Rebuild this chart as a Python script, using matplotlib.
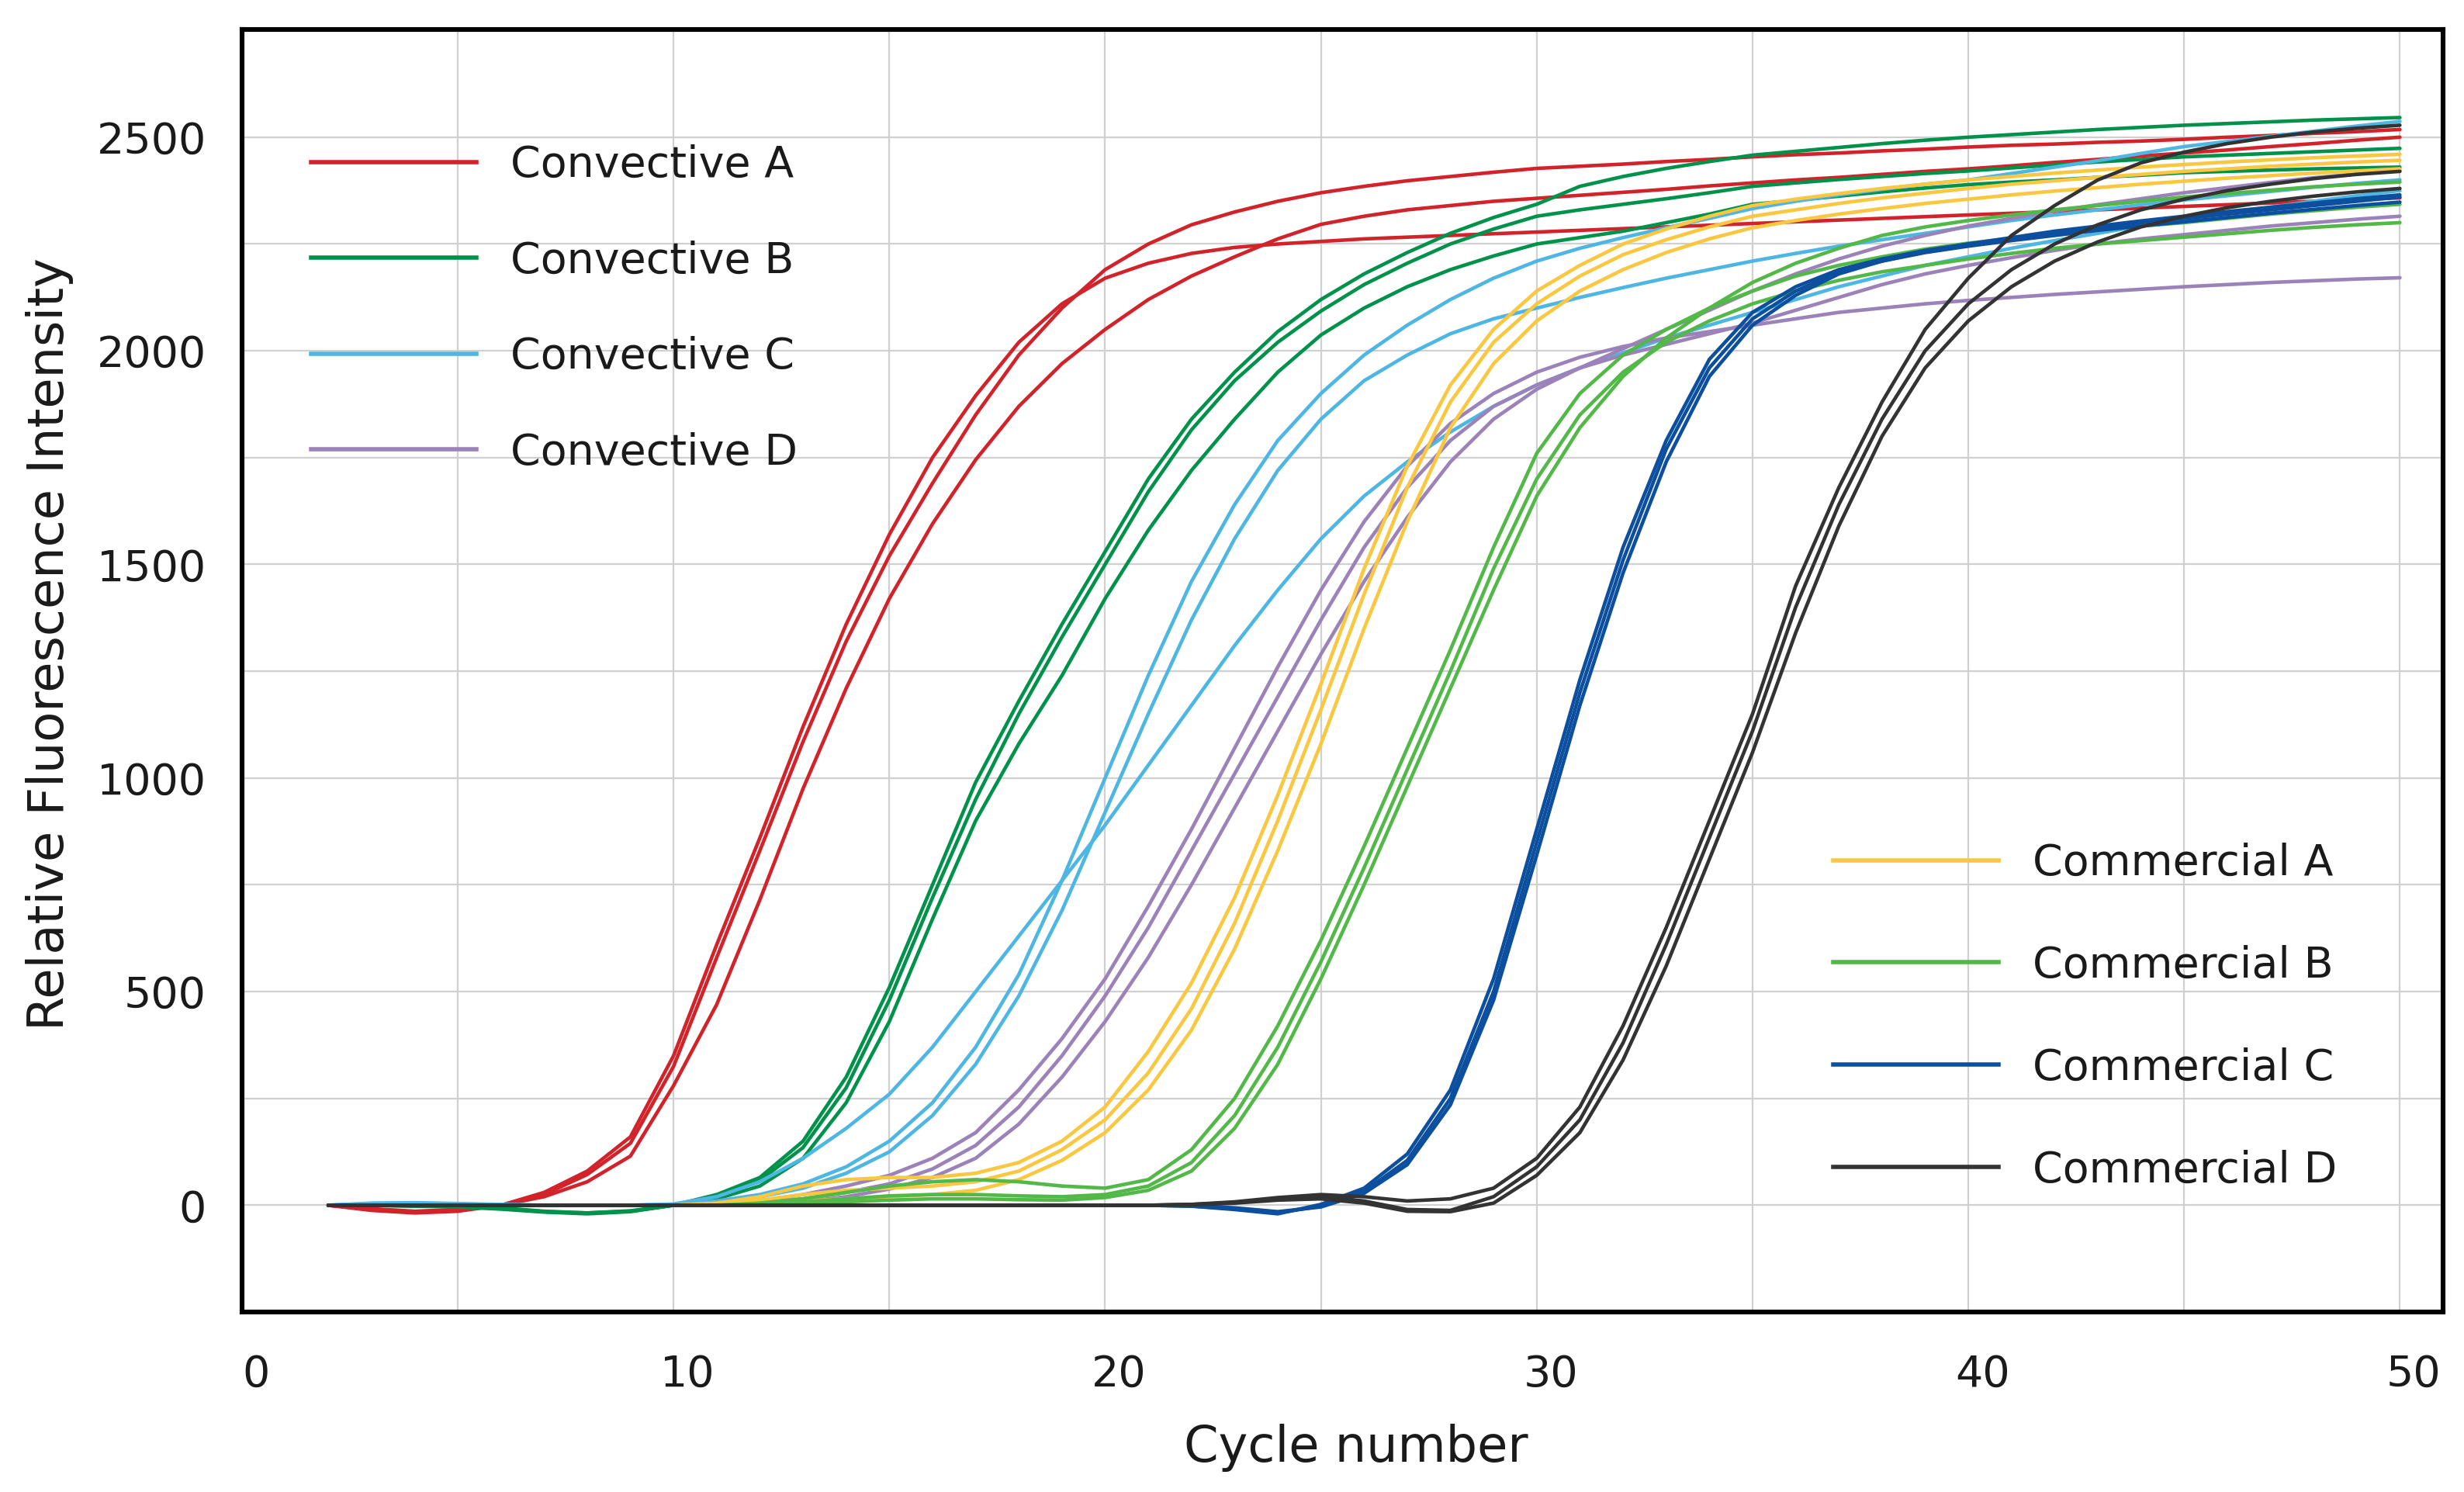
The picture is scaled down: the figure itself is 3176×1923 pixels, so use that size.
import matplotlib
matplotlib.use("Agg")
import matplotlib.pyplot as plt
from matplotlib.lines import Line2D
from matplotlib.transforms import ScaledTranslation

plt.rcParams['font.family'] = ['DejaVu Sans']

cycles = list(range(2, 51))

# ---- Convective A (red) ----
conv_a_1 = [0, -12, -18, -14, 0, 30, 80, 160, 350, 610, 860, 1120, 1360, 1570, 1750, 1895, 2020, 2110, 2170, 2205,
            2228, 2242, 2250, 2256, 2262, 2266, 2270, 2274, 2278, 2282, 2286, 2290, 2294, 2298, 2302, 2306, 2310, 2314,
            2318, 2322, 2326, 2330, 2334, 2338, 2342, 2346, 2350, 2354, 2358]
conv_a_2 = [0, -10, -16, -12, 0, 25, 72, 145, 325, 580, 830, 1085, 1320, 1520, 1690, 1850, 1990, 2100, 2190, 2250,
            2295, 2325, 2350, 2370, 2385, 2398, 2408, 2418, 2427, 2432, 2437, 2443, 2448, 2454, 2459, 2463, 2468, 2472,
            2477, 2481, 2484, 2488, 2491, 2495, 2500, 2504, 2509, 2513, 2518]
conv_a_3 = [0, -8, -14, -10, 0, 20, 55, 115, 280, 470, 715, 975, 1210, 1420, 1595, 1745, 1870, 1970, 2050, 2120,
            2175, 2220, 2262, 2296, 2315, 2330, 2340, 2350, 2357, 2364, 2371, 2378, 2386, 2393, 2400, 2406, 2413, 2420,
            2426, 2433, 2441, 2448, 2456, 2463, 2470, 2478, 2485, 2493, 2500]

# ---- Convective B (dark green) ----
conv_b_1 = [0, 0, -2, -2, -6, -14, -18, -14, 0, 25, 65, 150, 300, 510, 750, 990, 1180, 1360, 1530, 1700, 1840, 1950,
            2045, 2120, 2180, 2230, 2275, 2312, 2343, 2385, 2408, 2427, 2443, 2458, 2467, 2476, 2485, 2493, 2500, 2506,
            2512, 2518, 2523, 2528, 2532, 2536, 2540, 2543, 2546]
conv_b_2 = [0, 0, -1, -3, -8, -15, -18, -13, 0, 20, 58, 135, 275, 480, 720, 950, 1150, 1330, 1500, 1670, 1815, 1930,
            2020, 2093, 2155, 2205, 2250, 2285, 2315, 2330, 2343, 2356, 2370, 2385, 2393, 2401, 2408, 2415, 2421, 2428,
            2435, 2442, 2448, 2454, 2458, 2462, 2466, 2470, 2474]
conv_b_3 = [0, 0, -2, -4, -9, -16, -20, -15, 0, 15, 45, 110, 240, 430, 670, 900, 1080, 1240, 1420, 1580, 1720, 1840,
            1950, 2037, 2100, 2150, 2190, 2222, 2250, 2265, 2280, 2300, 2320, 2343, 2352, 2362, 2372, 2381, 2389, 2395,
            2400, 2406, 2411, 2417, 2420, 2423, 2426, 2428, 2430]

# ---- Convective C (light blue) ----
conv_c_1 = [0, 5, 6, 4, 2, 0, 0, 0, 2, 10, 25, 50, 90, 150, 240, 370, 540, 760, 1000, 1240, 1460, 1640, 1790, 1900,
            1990, 2060, 2120, 2170, 2210, 2240, 2265, 2288, 2310, 2333, 2350, 2365, 2378, 2390, 2400, 2415, 2430, 2445,
            2462, 2478, 2490, 2502, 2514, 2526, 2537]
conv_c_2 = [0, 4, 5, 3, 1, 0, 0, 0, 3, 20, 55, 110, 180, 260, 370, 500, 630, 760, 890, 1030, 1170, 1310, 1440, 1560,
            1660, 1740, 1810, 1870, 1920, 1960, 1995, 2030, 2060, 2090, 2120, 2150, 2175, 2200, 2220, 2240, 2258, 2275,
            2292, 2308, 2322, 2336, 2350, 2363, 2375]
conv_c_3 = [0, 3, 4, 3, 1, 0, 0, 0, 1, 8, 20, 40, 75, 125, 210, 330, 490, 690, 920, 1150, 1370, 1560, 1720, 1840,
            1930, 1990, 2040, 2075, 2100, 2125, 2148, 2170, 2190, 2210, 2228, 2245, 2260, 2275, 2290, 2305, 2318, 2330,
            2342, 2353, 2363, 2373, 2383, 2392, 2400]

# ---- Convective D (purple) ----
conv_d_1 = [0, 0, 0, 0, 0, 0, 0, 0, 0, 2, 10, 25, 45, 70, 110, 170, 270, 390, 530, 700, 880, 1070, 1260, 1440, 1600,
            1730, 1830, 1900, 1950, 1985, 2010, 2030, 2045, 2060, 2075, 2090, 2100, 2110, 2118, 2125, 2132, 2138, 2144,
            2150, 2155, 2160, 2164, 2168, 2171]
conv_d_2 = [0, 0, 0, 0, 0, 0, 0, 0, 0, 1, 5, 15, 30, 50, 85, 140, 230, 350, 490, 650, 830, 1010, 1190, 1370, 1540,
            1680, 1790, 1870, 1920, 1960, 1990, 2015, 2040, 2065, 2095, 2125, 2155, 2180, 2200, 2218, 2235, 2250, 2262,
            2272, 2282, 2292, 2300, 2308, 2315]
conv_d_3 = [0, 0, 0, 0, 0, 0, 0, 0, 0, 0, 0, 8, 20, 38, 65, 110, 190, 300, 430, 580, 750, 930, 1110, 1290, 1460,
            1610, 1740, 1840, 1910, 1960, 2005, 2050, 2095, 2140, 2180, 2215, 2245, 2270, 2292, 2310, 2327, 2342, 2356,
            2370, 2382, 2394, 2405, 2414, 2422]

# ---- Commercial A (yellow) ----
comm_a_1 = [0, 0, 0, 0, 0, 0, 0, 0, 0, 5, 20, 45, 60, 65, 65, 75, 100, 150, 230, 360, 520, 720, 960, 1220, 1490,
            1730, 1920, 2050, 2140, 2200, 2250, 2285, 2315, 2340, 2355, 2368, 2380, 2390, 2400, 2408, 2416, 2423, 2430,
            2436, 2442, 2447, 2452, 2456, 2460]
comm_a_2 = [0, 0, 0, 0, 0, 0, 0, 0, 0, 3, 12, 25, 35, 40, 45, 55, 80, 130, 200, 310, 460, 660, 900, 1160, 1430,
            1680, 1880, 2020, 2110, 2175, 2225, 2260, 2290, 2315, 2330, 2345, 2358, 2369, 2380, 2390, 2398, 2406, 2413,
            2420, 2426, 2432, 2437, 2442, 2446]
comm_a_3 = [0, 0, 0, 0, 0, 0, 0, 0, 0, 0, 5, 10, 15, 20, 25, 35, 60, 105, 170, 270, 410, 600, 830, 1080, 1350,
            1600, 1820, 1970, 2070, 2140, 2190, 2230, 2262, 2288, 2305, 2320, 2333, 2345, 2355, 2365, 2374, 2382, 2390,
            2397, 2404, 2410, 2416, 2421, 2426]

# ---- Commercial B (light green) ----
comm_b_1 = [0, 0, 0, 0, 0, 0, 0, 0, 0, 0, 5, 15, 30, 45, 55, 60, 55, 45, 40, 60, 130, 250, 420, 620, 840, 1070,
            1300, 1540, 1760, 1900, 1990, 2050, 2100, 2140, 2175, 2200, 2220, 2238, 2252, 2263, 2273, 2283, 2292, 2300,
            2310, 2320, 2328, 2336, 2343]
comm_b_2 = [0, 0, 0, 0, 0, 0, 0, 0, 0, 0, 2, 8, 15, 22, 25, 25, 22, 20, 25, 45, 100, 210, 370, 570, 790, 1020,
            1250, 1490, 1700, 1850, 1950, 2020, 2070, 2110, 2140, 2165, 2185, 2200, 2215, 2228, 2240, 2250, 2258, 2266,
            2274, 2282, 2289, 2295, 2300]
comm_b_3 = [0, 0, 0, 0, 0, 0, 0, 0, 0, 0, 0, 3, 8, 12, 15, 15, 13, 12, 18, 35, 80, 180, 330, 530, 750, 980,
            1210, 1440, 1660, 1820, 1940, 2030, 2100, 2160, 2205, 2240, 2270, 2290, 2305, 2318, 2330, 2340, 2350, 2360,
            2368, 2376, 2384, 2390, 2395]

# ---- Commercial C (dark blue) ----
comm_c_1 = [0, 0, 0, 0, 0, 0, 0, 0, 0, 0, 0, 0, 0, 0, 0, 0, 0, 0, 0, 0, -2, -10, -20, 2, 40, 120, 270, 530, 880,
            1230, 1540, 1790, 1980, 2090, 2150, 2190, 2215, 2235, 2250, 2262, 2275, 2288, 2300, 2310, 2320, 2330,
            2340, 2350, 2360]
comm_c_2 = [0, 0, 0, 0, 0, 0, 0, 0, 0, 0, 0, 0, 0, 0, 0, 0, 0, 0, 0, 0, -2, -8, -18, -2, 32, 105, 250, 500, 850,
            1200, 1510, 1770, 1960, 2075, 2140, 2185, 2210, 2230, 2245, 2258, 2270, 2282, 2292, 2302, 2312, 2322,
            2331, 2340, 2348]
comm_c_3 = [0, 0, 0, 0, 0, 0, 0, 0, 0, 0, 0, 0, 0, 0, 0, 0, 0, 0, 0, 0, -1, -6, -15, -4, 28, 95, 235, 480, 820,
            1170, 1480, 1740, 1940, 2060, 2130, 2180, 2210, 2232, 2250, 2265, 2280, 2292, 2304, 2315, 2326, 2336,
            2346, 2356, 2365]

# ---- Commercial D (dark grey) ----
comm_d_1 = [0, 0, 0, 0, 0, 0, 0, 0, 0, 0, 0, 0, 0, 0, 0, 0, 0, 0, 0, 0, 2, 8, 18, 25, 20, 10, 15, 40, 110, 230,
            420, 650, 900, 1150, 1450, 1680, 1880, 2050, 2170, 2270, 2340, 2400, 2440, 2465, 2485, 2500, 2512, 2521,
            2528]
comm_d_2 = [0, 0, 0, 0, 0, 0, 0, 0, 0, 0, 0, 0, 0, 0, 0, 0, 0, 0, 0, 0, 2, 6, 15, 20, 10, -10, -12, 20, 90, 200,
            380, 610, 860, 1110, 1400, 1640, 1840, 2000, 2110, 2190, 2250, 2295, 2330, 2355, 2375, 2390, 2403, 2413,
            2420]
comm_d_3 = [0, 0, 0, 0, 0, 0, 0, 0, 0, 0, 0, 0, 0, 0, 0, 0, 0, 0, 0, 0, 1, 5, 12, 15, 5, -14, -15, 5, 70, 170,
            340, 560, 810, 1060, 1340, 1590, 1800, 1960, 2070, 2150, 2210, 2255, 2290, 2315, 2335, 2350, 2362, 2372,
            2380]

group_names = ["Convective A", "Convective B", "Convective C", "Convective D",
               "Commercial A", "Commercial B", "Commercial C", "Commercial D"]
group_colors = ["#d2232a", "#00924a", "#4db6e2", "#9b82b9",
                "#f9c740", "#52b848", "#0b4f9e", "#333333"]
group_series = [[conv_a_1, conv_a_2, conv_a_3], [conv_b_1, conv_b_2, conv_b_3],
                [conv_c_1, conv_c_2, conv_c_3], [conv_d_1, conv_d_2, conv_d_3],
                [comm_a_1, comm_a_2, comm_a_3], [comm_b_1, comm_b_2, comm_b_3],
                [comm_c_1, comm_c_2, comm_c_3], [comm_d_1, comm_d_2, comm_d_3]]

x_ticks = [0, 10, 20, 30, 40, 50]
y_ticks = [0, 500, 1000, 1500, 2000, 2500]

fig = plt.figure(figsize=(15.88, 9.615), dpi=200)
ax = fig.add_axes([0.0982, 0.1206, 0.8933, 0.8596])

for name, color, reps in zip(group_names, group_colors, group_series):
    for vals in reps:
        assert len(vals) == len(cycles), (name, len(vals))
        ax.plot(cycles, vals, color=color, lw=1.65, solid_joinstyle='round',
                solid_capstyle='round', zorder=3)

ax.set_xlim(0, 51)
ax.set_ylim(-250, 2752)
ax.set_xticks(x_ticks)
ax.set_xticklabels([str(t) for t in x_ticks])
ax.set_xticks([5, 15, 25, 35, 45], minor=True)
ax.set_yticks(y_ticks)
ax.set_yticklabels([str(t) for t in y_ticks])
ax.set_yticks([250, 750, 1250, 1750, 2250], minor=True)
ax.grid(True, which='both', color='#d0d0d0', lw=0.8, zorder=0)
ax.set_axisbelow(True)
ax.tick_params(which='both', length=0)
ax.tick_params(axis='x', labelsize=20, pad=19.5, colors='#1a1a1a')
ax.tick_params(axis='y', labelsize=20, pad=16.5, colors='#1a1a1a')
offset = ScaledTranslation(0.09, 0, fig.dpi_scale_trans)
for lab in ax.get_xticklabels():
    lab.set_transform(lab.get_transform() + offset)

for sp in ax.spines.values():
    sp.set_linewidth(2.2)
    sp.set_color('black')
    sp.set_zorder(5)

ax.set_xlabel("Cycle number", fontsize=23, color='#1a1a1a')
ax.xaxis.set_label_coords(0.506, -0.087)
ax.set_ylabel("Relative Fluorescence Intensity", fontsize=23, color='#1a1a1a')
ax.yaxis.set_label_coords(-0.0765, 0.521)

def make_handles(idx):
    return [Line2D([], [], color=group_colors[i], lw=2.0) for i in idx]

leg1 = ax.legend(make_handles([0, 1, 2, 3]), group_names[:4], loc='upper left',
                 bbox_to_anchor=(0.0314, 0.9104), frameon=False, fontsize=20,
                 handlelength=3.83, handletextpad=0.79, labelspacing=1.25,
                 borderpad=0, borderaxespad=0, labelcolor='#1a1a1a')
ax.add_artist(leg1)
leg2 = ax.legend(make_handles([4, 5, 6, 7]), group_names[4:], loc='upper left',
                 bbox_to_anchor=(0.7230, 0.366), frameon=False, fontsize=20,
                 handlelength=3.83, handletextpad=0.79, labelspacing=1.40,
                 borderpad=0, borderaxespad=0, labelcolor='#1a1a1a')

fig.savefig("out.png", dpi=200, facecolor='white')
